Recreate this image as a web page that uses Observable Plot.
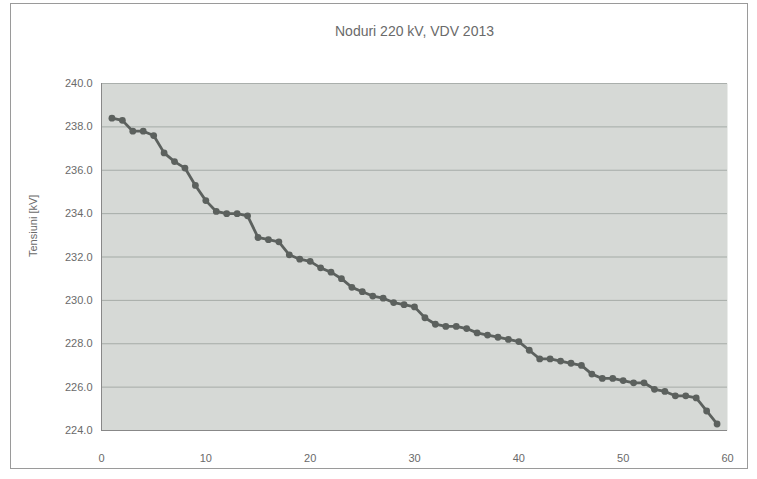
<!DOCTYPE html>
<html>
<head>
<meta charset="utf-8">
<script src="https://cdn.jsdelivr.net/npm/d3@7"></script>
<script src="https://cdn.jsdelivr.net/npm/@observablehq/plot@0.6"></script>
<style>
  html, body { margin: 0; padding: 0; background: #fff; }
  #wrap { position: relative; width: 757px; height: 479px; }
  #border { position: absolute; left: 10px; top: 3px; width: 738px; height: 466px; border: 1px solid #9a9a9a; box-sizing: border-box; pointer-events: none; }
</style>
</head>
<body>
<div id="wrap"><div id="border"></div></div>
<script>
const title = "Noduri 220 kV, VDV 2013";
const yLabel = "Tensiuni [kV]";
const nodes = d3.range(1, 60);
const voltages = [
  238.4, 238.3, 237.8, 237.8, 237.6, 236.8, 236.4, 236.1, 235.3, 234.6,
  234.1, 234.0, 234.0, 233.9, 232.9, 232.8, 232.7, 232.1, 231.9, 231.8,
  231.5, 231.3, 231.0, 230.6, 230.4, 230.2, 230.1, 229.9, 229.8, 229.7,
  229.2, 228.9, 228.8, 228.8, 228.7, 228.5, 228.4, 228.3, 228.2, 228.1,
  227.7, 227.3, 227.3, 227.2, 227.1, 227.0, 226.6, 226.4, 226.4, 226.3,
  226.2, 226.2, 225.9, 225.8, 225.6, 225.6, 225.5, 224.9, 224.3
];
const xTicks = [0, 10, 20, 30, 40, 50, 60];
const yTicks = [224, 226, 228, 230, 232, 234, 236, 238, 240];

const data = nodes.map((n, i) => ({x: n, y: voltages[i]}));

const chart = Plot.plot({
  width: 757,
  height: 479,
  marginLeft: 101,
  marginRight: 30,
  marginTop: 83,
  marginBottom: 49,
  style: {fontFamily: "'Liberation Sans', Arial, sans-serif", fontSize: "11px", color: "#6a6a6a", background: "transparent"},
  x: {domain: [0, 60], ticks: xTicks, tickSize: 0, tickPadding: 24, label: null},
  y: {domain: [224, 240], ticks: yTicks, tickSize: 0, tickPadding: 9, tickFormat: d3.format(".1f"), label: null},
  marks: [
    Plot.frame({fill: "#d6d9d6", stroke: null}),
    Plot.gridY(yTicks, {stroke: "#9aa09c", strokeOpacity: 0.8, strokeWidth: 1}),
    Plot.ruleX([0], {stroke: "#888"}),
    Plot.ruleY([224], {stroke: "#888"}),
    Plot.axisX({ticks: xTicks, tickSize: 0, tickPadding: 24, label: null, fill: "#6a6a6a"}),
    Plot.axisY({ticks: yTicks, tickSize: 0, tickPadding: 9, tickFormat: d3.format(".1f"), label: null, fill: "#6a6a6a"}),
    Plot.line(data, {x: "x", y: "y", stroke: "#5c615e", strokeWidth: 2.8}),
    Plot.dot(data, {x: "x", y: "y", r: 3.4, fill: "#5c615e", stroke: null}),
    Plot.text([title], {frameAnchor: "top", dy: -57, text: d => d, fontSize: 14, fill: "#6a6a6a", letterSpacing: "0.5px"}),
    Plot.text([yLabel], {frameAnchor: "left", dx: -68, rotate: -90, text: d => d, fontSize: 11, fill: "#6a6a6a"})
  ]
});
document.getElementById("wrap").appendChild(chart);
chart.style.position = "absolute";
chart.style.left = "0";
chart.style.top = "0";
</script>
</body>
</html>
